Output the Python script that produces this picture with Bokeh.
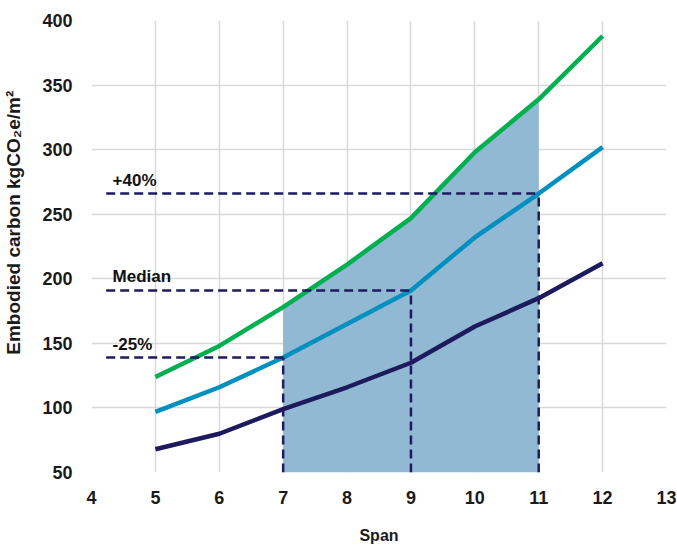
from bokeh.plotting import figure
from bokeh.models import Range1d, FixedTicker
from bokeh.core.properties import value
from bokeh.embed import file_html
from bokeh.resources import INLINE

span = [5, 6, 7, 8, 9, 10, 11, 12]
upper = [124, 148, 178, 211, 247, 298, 339, 388]
median = [97, 116, 139, 165, 191, 232, 266, 302]
lower = [68, 80, 99, 116, 135, 163, 185, 212]

marker_spans = [7, 9, 11]
marker_values = [139, 191, 266]
marker_labels = ["-25%", "Median", "+40%"]
shade_spans = [7, 8, 9, 10, 11]

x_ticks = [4, 5, 6, 7, 8, 9, 10, 11, 12, 13]
y_ticks = [50, 100, 150, 200, 250, 300, 350, 400]
y_grid = [100, 150, 200, 250, 300, 350, 400]

FONT = "Liberation Sans"
NAVY = "#1E1A5E"

p = figure(width=677, height=546, output_backend="svg", toolbar_location=None,
           x_range=Range1d(4, 13), y_range=Range1d(50, 400),
           min_border_left=91, min_border_right=11, min_border_top=20, min_border_bottom=72)
p.outline_line_color = None
p.background_fill_color = "white"

for ax in (p.xaxis, p.yaxis):
    ax.axis_line_color = None
    ax.major_tick_line_color = None
    ax.minor_tick_line_color = None
    ax.major_label_text_font = FONT
    ax.major_label_text_font_style = "bold"
    ax.major_label_text_font_size = "18px"
    ax.major_label_text_color = "#1a1a1a"
    ax.axis_label_text_font = FONT
    ax.axis_label_text_font_style = "bold"
    ax.axis_label_text_color = "#1a1a1a"

p.xaxis.ticker = FixedTicker(ticks=x_ticks)
p.yaxis.ticker = FixedTicker(ticks=y_ticks)
p.ygrid.ticker = FixedTicker(ticks=y_grid)
p.xaxis.major_label_standoff = 12
p.yaxis.major_label_standoff = 13
p.xaxis.axis_label = "Span"
p.yaxis.axis_label = "\u00a0" * 9 + "Embodied carbon kgCO₂e/m²"
p.xaxis.axis_label_text_font_size = "16px"
p.yaxis.axis_label_text_font_size = "19px"
p.xaxis.axis_label_standoff = 20
p.yaxis.axis_label_standoff = 15

p.grid.grid_line_color = "#D9D9D9"
p.grid.grid_line_width = 1.5

shade_top = [upper[span.index(s)] for s in shade_spans]
p.varea(x=shade_spans, y1=[50] * len(shade_spans), y2=shade_top, fill_color="#91B9D4")

p.line(span, upper, line_color="#00B050", line_width=4.5)
p.line(span, median, line_color="#0090C0", line_width=4.5)
p.line(span, lower, line_color=NAVY, line_width=4.5)

for s, v, lab in zip(marker_spans, marker_values, marker_labels):
    p.line([4.23, s], [v, v], line_color=NAVY, line_width=2.5, line_dash="9 5")
    p.line([s, s], [50, v], line_color=NAVY, line_width=2.5, line_dash="9 5")
    p.text(x=[4.33], y=[v], text=[lab], text_font=value(FONT), text_font_style="bold",
           text_font_size="17px", text_color="#111111", text_baseline="bottom",
           text_align="left", y_offset=-4)

open("out.html", "w").write(file_html(p, INLINE))
